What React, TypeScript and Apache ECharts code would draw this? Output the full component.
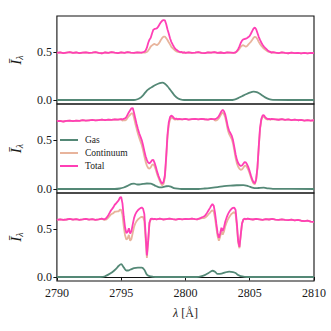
import React, { useEffect, useRef } from "react";
import * as echarts from "echarts";

// ---------- Panel 1 ----------
const lam1A = [2790, 2790.25, 2790.5, 2790.75, 2791, 2791.25, 2791.5, 2791.75, 2792, 2792.25, 2792.5, 2792.75, 2793, 2793.25, 2793.5, 2793.75, 2794, 2794.25, 2794.5, 2794.75, 2795, 2795.25, 2795.5, 2795.75, 2796, 2796.25, 2796.5];
const lam1F1 = [2796.6, 2796.7, 2796.8, 2796.9, 2797, 2797.1, 2797.2, 2797.3, 2797.4, 2797.5, 2797.6, 2797.7, 2797.8, 2797.9, 2798, 2798.1, 2798.2, 2798.3, 2798.4, 2798.5, 2798.6, 2798.7, 2798.8, 2798.9, 2799, 2799.1, 2799.2, 2799.3, 2799.4, 2799.5, 2799.6, 2799.7, 2799.8, 2799.9, 2800];
const lam1B = [2800.25, 2800.5, 2800.75, 2801, 2801.25, 2801.5, 2801.75, 2802, 2802.25, 2802.5, 2802.75, 2803, 2803.25, 2803.5, 2803.75];
const lam1F2 = [2803.8, 2803.9, 2804, 2804.1, 2804.2, 2804.3, 2804.4, 2804.5, 2804.6, 2804.7, 2804.8, 2804.9, 2805, 2805.1, 2805.2, 2805.3, 2805.4, 2805.5, 2805.6, 2805.7, 2805.8, 2805.9, 2806, 2806.1, 2806.2, 2806.3, 2806.4, 2806.5, 2806.6, 2806.7, 2806.8];
const lam1C = [2807, 2807.25, 2807.5, 2807.75, 2808, 2808.25, 2808.5, 2808.75, 2809, 2809.25, 2809.5, 2809.75, 2810];

const base1A = [0.497, 0.501, 0.494, 0.499, 0.503, 0.496, 0.5, 0.493, 0.498, 0.502, 0.495, 0.499, 0.504, 0.497, 0.492, 0.5, 0.496, 0.503, 0.498, 0.494, 0.501, 0.497, 0.505, 0.499, 0.495, 0.502, 0.498];
const base1B = [0.502, 0.495, 0.499, 0.504, 0.497, 0.493, 0.501, 0.498, 0.505, 0.496, 0.5, 0.494, 0.502, 0.499, 0.496];
const base1C = [0.498, 0.493, 0.501, 0.496, 0.492, 0.499, 0.494, 0.497, 0.49, 0.496, 0.491, 0.495, 0.493];
const total1F1 = [0.5, 0.503, 0.508, 0.52, 0.55, 0.6, 0.635, 0.655, 0.7, 0.74, 0.748, 0.752, 0.757, 0.775, 0.8, 0.82, 0.835, 0.842, 0.838, 0.8, 0.745, 0.7, 0.65, 0.612, 0.585, 0.56, 0.54, 0.528, 0.518, 0.51, 0.503, 0.506, 0.498, 0.502, 0.496];
const cont1F1 = [0.497, 0.499, 0.502, 0.5, 0.505, 0.52, 0.54, 0.563, 0.575, 0.585, 0.59, 0.582, 0.578, 0.59, 0.61, 0.635, 0.655, 0.667, 0.668, 0.652, 0.632, 0.608, 0.585, 0.56, 0.545, 0.532, 0.52, 0.512, 0.506, 0.503, 0.5, 0.504, 0.497, 0.501, 0.496];
const total1F2 = [0.497, 0.502, 0.515, 0.535, 0.565, 0.6, 0.625, 0.638, 0.642, 0.645, 0.652, 0.662, 0.675, 0.7, 0.728, 0.752, 0.762, 0.745, 0.705, 0.665, 0.632, 0.605, 0.582, 0.563, 0.548, 0.535, 0.522, 0.512, 0.506, 0.499, 0.503];
const cont1F2 = [0.497, 0.5, 0.508, 0.522, 0.54, 0.56, 0.572, 0.577, 0.568, 0.562, 0.568, 0.585, 0.6, 0.615, 0.635, 0.655, 0.665, 0.66, 0.64, 0.612, 0.59, 0.57, 0.555, 0.542, 0.53, 0.52, 0.512, 0.507, 0.503, 0.498, 0.502];
const gasLam1 = [2790, 2795.8, 2796.1, 2796.4, 2796.7, 2797, 2797.2, 2797.4, 2797.7, 2798, 2798.2, 2798.4, 2798.6, 2798.8, 2799, 2799.2, 2799.4, 2799.6, 2799.9, 2803.5, 2803.8, 2804.1, 2804.4, 2804.7, 2805, 2805.3, 2805.6, 2805.9, 2806.2, 2806.5, 2806.8, 2810];
const gas1 = [0, 0, 0.002, 0.015, 0.05, 0.1, 0.12, 0.137, 0.16, 0.178, 0.182, 0.172, 0.145, 0.11, 0.075, 0.04, 0.018, 0.006, 0, 0, 0.005, 0.02, 0.04, 0.06, 0.078, 0.088, 0.08, 0.055, 0.028, 0.01, 0.002, 0];

// ---------- Panel 2 ----------
const lam2A = [2790, 2790.25, 2790.5, 2790.75, 2791, 2791.25, 2791.5, 2791.75, 2792, 2792.25, 2792.5, 2792.75, 2793, 2793.25, 2793.5, 2793.75, 2794, 2794.25, 2794.5, 2794.75, 2795];
const lam2F1 = [2795.1, 2795.2, 2795.3, 2795.4, 2795.5, 2795.6, 2795.7, 2795.8, 2795.9, 2796, 2796.1, 2796.2, 2796.3, 2796.4, 2796.5, 2796.6, 2796.7, 2796.8, 2796.9, 2797, 2797.1, 2797.2, 2797.3, 2797.4, 2797.5, 2797.6, 2797.7, 2797.8, 2797.9, 2798, 2798.1, 2798.2, 2798.3, 2798.4, 2798.5, 2798.6, 2798.7, 2798.8, 2798.9, 2799, 2799.1, 2799.2, 2799.3, 2799.4, 2799.5];
const lam2B = [2799.75, 2800, 2800.25, 2800.5, 2800.75, 2801, 2801.25, 2801.5, 2801.75, 2802, 2802.25];
const lam2F2 = [2802.3, 2802.4, 2802.5, 2802.6, 2802.7, 2802.8, 2802.9, 2803, 2803.1, 2803.2, 2803.3, 2803.4, 2803.5, 2803.6, 2803.7, 2803.8, 2803.9, 2804, 2804.1, 2804.2, 2804.3, 2804.4, 2804.5, 2804.6, 2804.7, 2804.8, 2804.9, 2805, 2805.1, 2805.2, 2805.3, 2805.4, 2805.5, 2805.6, 2805.7, 2805.8, 2805.9, 2806, 2806.1, 2806.2, 2806.3, 2806.4, 2806.5, 2806.6, 2806.7];
const lam2C = [2807, 2807.25, 2807.5, 2807.75, 2808, 2808.25, 2808.5, 2808.75, 2809, 2809.25, 2809.5, 2809.75, 2810];

const base2A = [0.693, 0.697, 0.69, 0.696, 0.699, 0.694, 0.7, 0.697, 0.703, 0.698, 0.702, 0.706, 0.701, 0.705, 0.709, 0.704, 0.71, 0.707, 0.712, 0.709, 0.714];
const base2B = [0.712, 0.718, 0.709, 0.714, 0.716, 0.711, 0.717, 0.713, 0.71, 0.716, 0.712];
const base2C = [0.712, 0.708, 0.714, 0.706, 0.711, 0.705, 0.709, 0.703, 0.707, 0.7, 0.705, 0.699, 0.703];
const total2F1 = [0.712, 0.718, 0.722, 0.735, 0.76, 0.785, 0.805, 0.825, 0.828, 0.78, 0.72, 0.665, 0.615, 0.57, 0.535, 0.5, 0.45, 0.39, 0.335, 0.295, 0.27, 0.262, 0.275, 0.295, 0.298, 0.268, 0.225, 0.175, 0.135, 0.1, 0.07, 0.055, 0.075, 0.14, 0.33, 0.55, 0.68, 0.735, 0.752, 0.742, 0.725, 0.716, 0.719, 0.713, 0.717];
const cont2F1 = [0.7, 0.703, 0.701, 0.708, 0.728, 0.746, 0.759, 0.773, 0.774, 0.725, 0.668, 0.617, 0.568, 0.524, 0.487, 0.45, 0.398, 0.337, 0.28, 0.239, 0.215, 0.207, 0.221, 0.246, 0.254, 0.231, 0.195, 0.15, 0.115, 0.082, 0.053, 0.036, 0.053, 0.115, 0.302, 0.521, 0.65, 0.709, 0.73, 0.726, 0.715, 0.709, 0.714, 0.71, 0.715];
const total2F2 = [0.715, 0.72, 0.728, 0.745, 0.77, 0.795, 0.81, 0.795, 0.76, 0.7, 0.635, 0.595, 0.57, 0.545, 0.5, 0.43, 0.355, 0.3, 0.265, 0.245, 0.235, 0.24, 0.258, 0.275, 0.272, 0.25, 0.22, 0.18, 0.135, 0.095, 0.068, 0.058, 0.1, 0.22, 0.43, 0.62, 0.715, 0.752, 0.755, 0.735, 0.722, 0.715, 0.718, 0.712, 0.716];
const cont2F2 = [0.698, 0.701, 0.708, 0.723, 0.746, 0.769, 0.782, 0.765, 0.729, 0.668, 0.601, 0.561, 0.535, 0.51, 0.464, 0.394, 0.318, 0.262, 0.227, 0.206, 0.196, 0.2, 0.218, 0.238, 0.238, 0.219, 0.192, 0.157, 0.116, 0.081, 0.056, 0.048, 0.092, 0.211, 0.419, 0.608, 0.702, 0.738, 0.741, 0.723, 0.713, 0.708, 0.713, 0.708, 0.714];
const gasLam2 = [2790, 2794.5, 2794.9, 2795.2, 2795.5, 2795.8, 2796, 2796.2, 2796.4, 2796.7, 2797, 2797.3, 2797.5, 2797.7, 2797.9, 2798.1, 2798.3, 2798.5, 2798.7, 2798.9, 2799.1, 2799.4, 2799.7, 2801, 2801.5, 2802, 2802.5, 2803, 2803.5, 2804, 2804.5, 2804.9, 2805.2, 2805.5, 2805.8, 2806.1, 2806.4, 2806.8, 2810];
const gas2 = [0, 0, 0.005, 0.015, 0.032, 0.052, 0.055, 0.048, 0.046, 0.052, 0.056, 0.054, 0.044, 0.03, 0.02, 0.017, 0.022, 0.028, 0.03, 0.022, 0.01, 0.003, 0, 0, 0.005, 0.012, 0.02, 0.03, 0.035, 0.038, 0.04, 0.028, 0.014, 0.008, 0.012, 0.014, 0.007, 0.001, 0];

// ---------- Panel 3 ----------
const lam3A = [2790, 2790.25, 2790.5, 2790.75, 2791, 2791.25, 2791.5, 2791.75, 2792, 2792.25, 2792.5, 2792.75, 2793, 2793.25, 2793.5];
const lam3F1 = [2793.6, 2793.7, 2793.8, 2793.9, 2794, 2794.1, 2794.2, 2794.3, 2794.4, 2794.5, 2794.6, 2794.7, 2794.8, 2794.9, 2795, 2795.1, 2795.2, 2795.3, 2795.4, 2795.5, 2795.6, 2795.7, 2795.8, 2795.9, 2796, 2796.1, 2796.2, 2796.3, 2796.4, 2796.5, 2796.6, 2796.7, 2796.8, 2796.9, 2797, 2797.1, 2797.2, 2797.3, 2797.4, 2797.5, 2797.6];
const lam3B = [2797.75, 2798, 2798.25, 2798.5, 2798.75, 2799, 2799.25, 2799.5, 2799.75, 2800, 2800.25, 2800.5, 2800.75];
const lam3F2 = [2800.8, 2800.9, 2801, 2801.1, 2801.2, 2801.3, 2801.4, 2801.5, 2801.6, 2801.7, 2801.8, 2801.9, 2802, 2802.1, 2802.2, 2802.3, 2802.4, 2802.5, 2802.6, 2802.7, 2802.8, 2802.9, 2803, 2803.1, 2803.2, 2803.3, 2803.4, 2803.5, 2803.6, 2803.7, 2803.8, 2803.9, 2804, 2804.1, 2804.2, 2804.3, 2804.4, 2804.5, 2804.6, 2804.7, 2804.8];
const lam3C = [2805, 2805.25, 2805.5, 2805.75, 2806, 2806.25, 2806.5, 2806.75, 2807, 2807.25, 2807.5, 2807.75, 2808, 2808.25, 2808.5, 2808.75, 2809, 2809.25, 2809.5, 2809.75, 2810];

const base3A = [0.598, 0.603, 0.596, 0.601, 0.607, 0.599, 0.604, 0.597, 0.602, 0.608, 0.6, 0.605, 0.598, 0.603, 0.609];
const base3B = [0.603, 0.609, 0.601, 0.606, 0.611, 0.604, 0.599, 0.607, 0.602, 0.608, 0.605, 0.61, 0.604];
const base3C = [0.606, 0.601, 0.608, 0.603, 0.598, 0.605, 0.601, 0.607, 0.6, 0.596, 0.603, 0.598, 0.594, 0.6, 0.591, 0.596, 0.588, 0.584, 0.589, 0.579, 0.576];
const total3F1 = [0.606, 0.603, 0.61, 0.625, 0.645, 0.67, 0.695, 0.712, 0.73, 0.755, 0.768, 0.785, 0.8, 0.83, 0.836, 0.77, 0.63, 0.52, 0.46, 0.47, 0.51, 0.455, 0.48, 0.55, 0.615, 0.655, 0.68, 0.698, 0.71, 0.72, 0.726, 0.715, 0.66, 0.45, 0.225, 0.38, 0.57, 0.607, 0.61, 0.604, 0.608];
const cont3F1 = [0.603, 0.598, 0.599, 0.607, 0.62, 0.637, 0.653, 0.662, 0.668, 0.682, 0.683, 0.685, 0.685, 0.705, 0.701, 0.652, 0.53, 0.436, 0.392, 0.401, 0.44, 0.379, 0.398, 0.462, 0.522, 0.56, 0.584, 0.601, 0.613, 0.623, 0.629, 0.627, 0.585, 0.4, 0.2, 0.365, 0.562, 0.602, 0.607, 0.602, 0.607];
const total3F2 = [0.606, 0.602, 0.608, 0.612, 0.618, 0.625, 0.63, 0.638, 0.655, 0.675, 0.698, 0.72, 0.745, 0.762, 0.745, 0.67, 0.56, 0.46, 0.41, 0.455, 0.515, 0.48, 0.52, 0.58, 0.62, 0.655, 0.68, 0.7, 0.715, 0.722, 0.725, 0.7, 0.56, 0.38, 0.315, 0.44, 0.56, 0.6, 0.61, 0.604, 0.609];
const cont3F2 = [0.606, 0.602, 0.606, 0.608, 0.612, 0.615, 0.615, 0.618, 0.628, 0.64, 0.656, 0.67, 0.687, 0.697, 0.685, 0.615, 0.517, 0.428, 0.378, 0.422, 0.48, 0.441, 0.476, 0.532, 0.569, 0.601, 0.624, 0.645, 0.662, 0.67, 0.678, 0.658, 0.529, 0.36, 0.301, 0.432, 0.555, 0.597, 0.608, 0.603, 0.609];
const gasLam3 = [2790, 2793.4, 2793.7, 2794, 2794.3, 2794.6, 2794.8, 2795, 2795.2, 2795.4, 2795.6, 2795.8, 2796, 2796.3, 2796.6, 2796.8, 2797, 2797.2, 2797.5, 2797.8, 2800.9, 2801.2, 2801.5, 2801.8, 2802.1, 2802.3, 2802.5, 2802.8, 2803.1, 2803.4, 2803.7, 2803.9, 2804.1, 2804.3, 2804.6, 2804.9, 2810];
const gas3 = [0, 0, 0.005, 0.025, 0.05, 0.085, 0.115, 0.135, 0.1, 0.068, 0.07, 0.082, 0.093, 0.097, 0.097, 0.075, 0.025, 0.008, 0.002, 0, 0, 0.006, 0.02, 0.042, 0.065, 0.055, 0.032, 0.035, 0.048, 0.056, 0.052, 0.042, 0.02, 0.008, 0.002, 0, 0];

const xTicks = [2790, 2795, 2800, 2805, 2810];
const yTicks = [0, 0.5];
const legendNames = ["Gas", "Continuum", "Total"];

const C_GAS = "#548876";
const C_CONT = "#e8b49c";
const C_TOT = "#ff3fb5";
const FONT = "'Liberation Serif', 'DejaVu Serif', serif";
const TXT = "#1a1a1a";

const pairs = (xs: number[], ys: number[]) => xs.map((x, i) => [x, ys[i]]);

function panelSeries(idx: number, lam: number[], tot: number[], cont: number[], gLam: number[], g: number[]) {
  const common = { type: "line", xAxisIndex: idx, yAxisIndex: idx, symbol: "none", showSymbol: false, silent: true };
  return [
    { ...common, name: "Gas", data: pairs(gLam, g), smooth: 0.3, lineStyle: { color: C_GAS, width: 1.8 }, itemStyle: { color: C_GAS } },
    { ...common, name: "Continuum", data: pairs(lam, cont), lineStyle: { color: C_CONT, width: 1.8 }, itemStyle: { color: C_CONT } },
    { ...common, name: "Total", data: pairs(lam, tot), lineStyle: { color: C_TOT, width: 1.8 }, itemStyle: { color: C_TOT } },
  ];
}

export default function App() {
  const ref = useRef<HTMLDivElement>(null);
  useEffect(() => {
    if (!ref.current) return;
    const chart = echarts.init(ref.current, undefined, { renderer: "svg" });

    const lam1 = [...lam1A, ...lam1F1, ...lam1B, ...lam1F2, ...lam1C];
    const total1 = [...base1A, ...total1F1, ...base1B, ...total1F2, ...base1C];
    const cont1 = [...base1A, ...cont1F1, ...base1B, ...cont1F2, ...base1C];
    const lam2 = [...lam2A, ...lam2F1, ...lam2B, ...lam2F2, ...lam2C];
    const total2 = [...base2A, ...total2F1, ...base2B, ...total2F2, ...base2C];
    const cont2 = [...base2A, ...cont2F1, ...base2B, ...cont2F2, ...base2C];
    const lam3 = [...lam3A, ...lam3F1, ...lam3B, ...lam3F2, ...lam3C];
    const total3 = [...base3A, ...total3F1, ...base3B, ...total3F2, ...base3C];
    const cont3 = [...base3A, ...cont3F1, ...base3B, ...cont3F2, ...base3C];

    const gridBase = { left: 49, width: 265, show: true, borderColor: "#111", borderWidth: 1.1, backgroundColor: "transparent" };
    const ranges = [
      [-0.042, 0.884],
      [-0.041, 0.869],
      [-0.042, 0.878],
    ];
    const yAxes = ranges.map((r, i) => ({
      type: "value",
      gridIndex: i,
      min: r[0],
      max: r[1],
      axisLine: { show: false },
      splitLine: { show: false },
      axisTick: { show: true, customValues: yTicks, length: 3.5, lineStyle: { color: "#111", width: 1 } },
      axisLabel: { customValues: yTicks, formatter: (v: number) => v.toFixed(1), fontFamily: FONT, fontSize: 12, color: TXT, margin: 5 },
      name: "{i|Ī}{s|λ}",
      nameLocation: "middle",
      nameRotate: 90,
      nameGap: 29,
      nameTextStyle: {
        rich: {
          i: { fontFamily: FONT, fontStyle: "italic", fontSize: 15, color: TXT, lineHeight: 15, padding: [0, 0, 3, 0] },
          s: { fontFamily: FONT, fontStyle: "italic", fontSize: 10, color: TXT, lineHeight: 10, verticalAlign: "bottom" },
        },
      },
    }));
    const xAxes = [0, 1, 2].map((i) => ({
      type: "value",
      gridIndex: i,
      min: xTicks[0],
      max: xTicks[xTicks.length - 1],
      interval: 5,
      splitLine: { show: false },
      axisLine: { show: i === 2, lineStyle: { color: "#111", width: 1 } },
      axisTick: { show: i === 2, length: 3.5, lineStyle: { color: "#111", width: 1 } },
      axisLabel: { show: i === 2, formatter: (v: number) => String(v), fontFamily: FONT, fontSize: 12, color: TXT, margin: 6 },
      name: i === 2 ? "{i|λ} [Å]" : "",
      nameLocation: "middle",
      nameGap: 26,
      nameTextStyle: {
        fontFamily: FONT,
        fontSize: 12,
        color: TXT,
        rich: { i: { fontFamily: FONT, fontStyle: "italic", fontSize: 12, color: TXT } },
      },
    }));

    chart.setOption({
      animation: false,
      backgroundColor: "#ffffff",
      grid: [
        { ...gridBase, top: 16, height: 88 },
        { ...gridBase, top: 104, height: 89 },
        { ...gridBase, top: 193, height: 88 },
      ],
      xAxis: xAxes,
      yAxis: yAxes,
      legend: {
        data: legendNames,
        orient: "vertical",
        left: 55,
        top: 130,
        icon: "rect",
        itemWidth: 18,
        itemHeight: 2,
        itemGap: 3,
        textStyle: { fontFamily: FONT, fontSize: 9.5, color: TXT, padding: [0, 0, 0, 2] },
        selectedMode: false,
      },
      series: [
        ...panelSeries(0, lam1, total1, cont1, gasLam1, gas1),
        ...panelSeries(1, lam2, total2, cont2, gasLam2, gas2),
        ...panelSeries(2, lam3, total3, cont3, gasLam3, gas3),
      ],
    });
    return () => chart.dispose();
  }, []);
  return <div ref={ref} style={{ position: "fixed", left: 0, top: 0, width: 331, height: 331, background: "#fff" }} />;
}
